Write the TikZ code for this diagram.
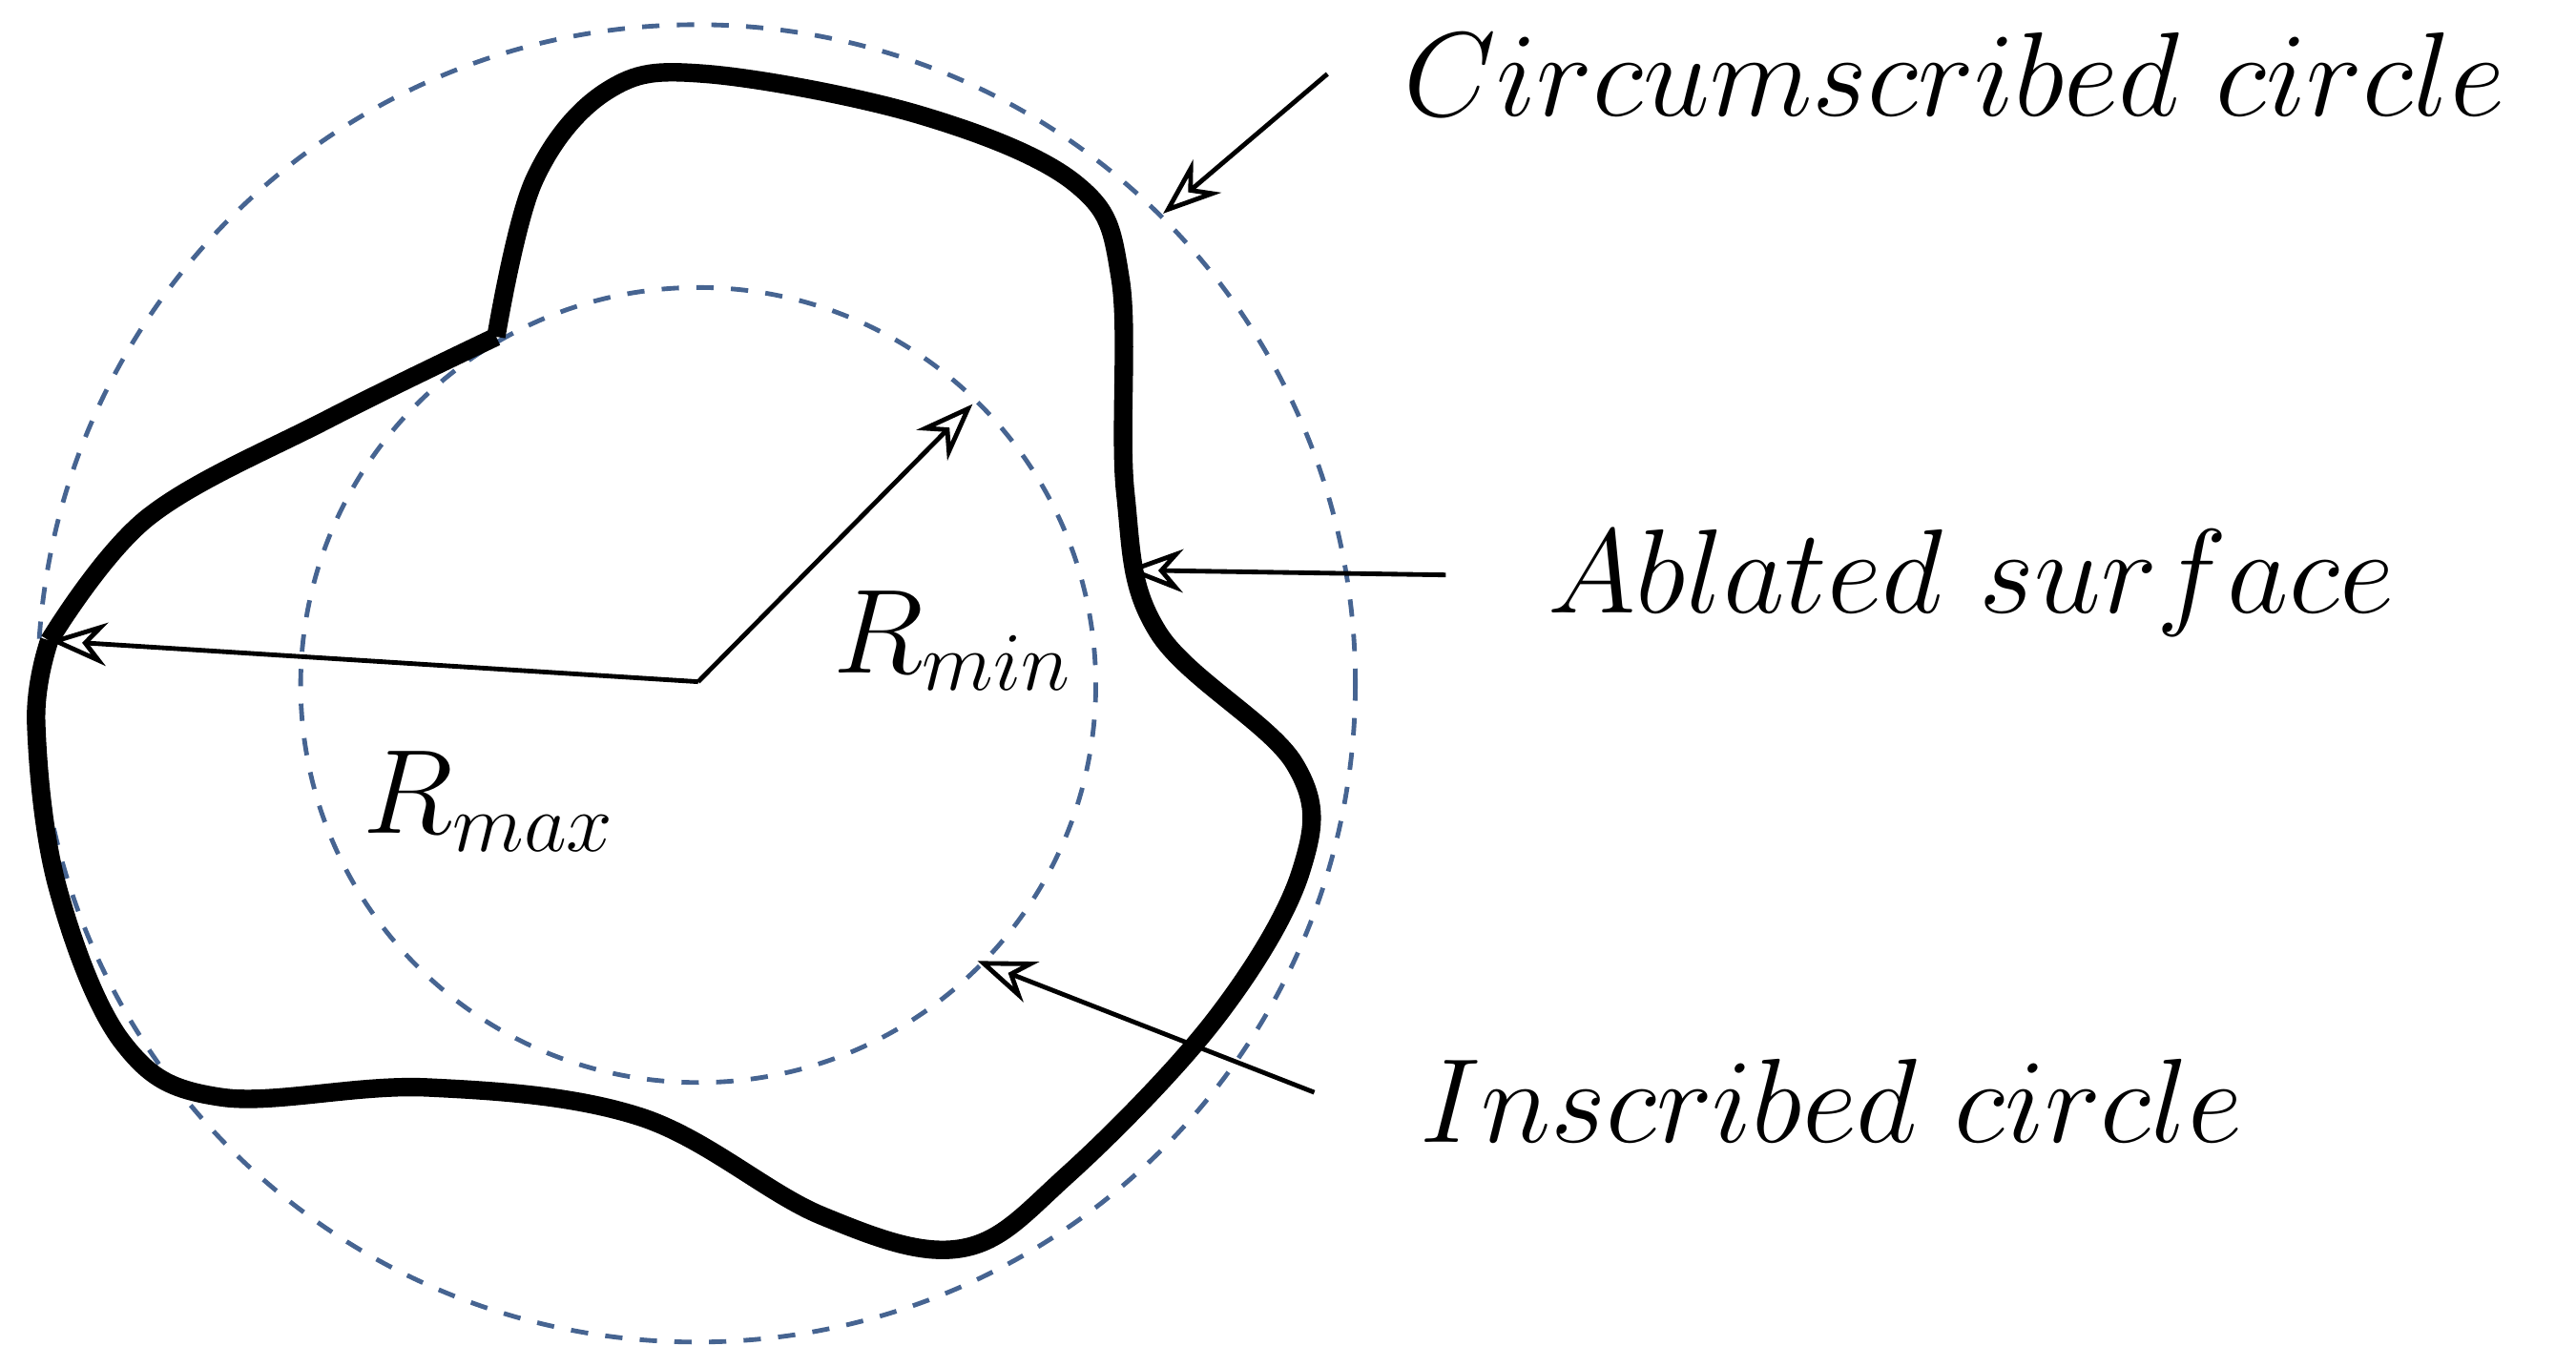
\documentclass[tikz,border=0pt]{standalone}
\usepackage{amsmath}
\usetikzlibrary{arrows.meta}
\definecolor{slateblue}{RGB}{70,100,145}
\begin{document}
\begin{tikzpicture}[x=0.01cm,y=-0.01cm, every node/.style={font=\fontsize{21}{24}\selectfont}]
    \useasboundingbox (0,0) rectangle (1568,832);
    % Circles
    \draw[dashed, slateblue, thick] (424,416) circle (401);
    \draw[dashed, slateblue, thick] (425,417) circle (242);
    % Ablated surface
    \draw[line width=3.2pt, line join=round]
        plot[smooth, tension=0.6] coordinates {(302,205) (325,110) (370,55) (430,45) (560,70) (655,112) (682,170) (685,300) (705,385) (788,465) (792,530) (740,620) (650,715) (585,760) (500,740) (390,680) (260,662) (135,668) (75,635) (35,540) (22,440) (30,390)}
        plot[smooth, tension=0.6] coordinates {(30,390) (90,315) (200,255) (302,205)};
    % Radii
    \coordinate (o) at (425,415);
    \coordinate (pmax) at (30,390);
    \coordinate (pmin) at (592,246);
    \draw[-{Stealth[open,length=10pt]}, thick] (o) -- (pmax);
    \draw[-{Stealth[open,length=10pt]}, thick] (o) -- (pmin);
    \node (rmax) at (298,488) {$R_{max}$};
    \node (rmin) at (580,390) {$R_{min}$};
    % Labels
    \node (circ) at (1190,45) {$Circumscribed\ circle$};
    \node (abl) at (1200,355) {$Ablated\ surface$};
    \node (insc) at (1115,670) {$Inscribed\ circle$};
    \coordinate (c1) at (808,45);
    \coordinate (c2) at (708,130);
    \coordinate (a1) at (880,350);
    \coordinate (a2) at (685,347);
    \coordinate (i1) at (800,665);
    \coordinate (i2) at (595,585);
    \draw[-{Stealth[open,length=10pt]}, thick] (c1) -- (c2);
    \draw[-{Stealth[open,length=10pt]}, thick] (a1) -- (a2);
    \draw[-{Stealth[open,length=10pt]}, thick] (i1) -- (i2);
\end{tikzpicture}
\end{document}
